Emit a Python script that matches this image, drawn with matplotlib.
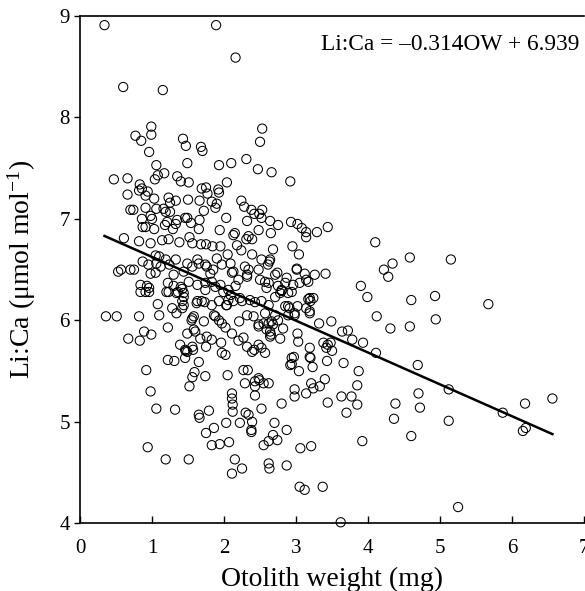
import matplotlib
matplotlib.use("Agg")
import matplotlib.pyplot as plt
import numpy as np

plt.rcParams['font.family'] = ['Liberation Serif', 'DejaVu Serif']
plt.rcParams['mathtext.fontset'] = 'custom'
plt.rcParams['mathtext.rm'] = 'Liberation Serif'
plt.rcParams['mathtext.default'] = 'regular'

# Otolith weight (mg), Li:Ca (umol/mol) pairs
points = [
    (0.34,8.91),(1.89,8.91),(2.16,8.59),(0.60,8.30),(1.15,8.27),
    (0.99,7.91),(0.99,7.83),(0.77,7.82),(0.85,7.77),(0.96,7.66),(1.43,7.79),(1.47,7.72),(1.68,7.71),
    (1.70,7.67),(1.49,7.55),(2.53,7.89),(2.50,7.76),(2.31,7.59),(2.10,7.55),(1.93,7.53),(2.47,7.49),
    (2.66,7.46),(2.92,7.37),(1.06,7.53),(1.17,7.45),(1.08,7.43),(1.04,7.39),(0.47,7.39),(0.66,7.40),
    (0.66,7.24),(0.83,7.34),(0.86,7.30),(0.82,7.28),(0.94,7.27),(0.91,7.23),(1.03,7.20),(1.35,7.42),
    (1.40,7.37),(1.51,7.36),(1.50,7.19),(1.69,7.30),(1.75,7.31),(1.77,7.25),(1.92,7.29),(1.93,7.26),
    (2.04,7.36),(1.66,7.18),(1.83,7.17),(1.90,7.15),(1.25,7.16),(1.33,7.18),(1.23,7.21),
    (0.91,7.11),(0.74,7.09),(0.70,7.09),(1.16,7.10),(1.19,7.07),(1.25,7.07),(1.06,7.10),(2.24,7.18),
    (2.28,7.12),(2.38,7.09),(2.53,7.09),(2.49,7.05),(2.42,7.05),(2.32,6.98),(2.93,6.97),(3.02,6.95),
    (2.64,6.98),(2.75,6.94),(2.03,7.01),(1.94,6.89),(1.46,7.01),(1.35,6.99),(1.33,6.95),(1.66,6.99),
    (1.72,7.08),(1.65,6.90),(1.54,6.96),(0.86,7.00),(0.87,6.92),(0.98,7.03),(0.91,6.92),(1.03,6.90),
    (1.18,6.94),(1.21,6.97),(1.29,6.90),(1.88,7.11),(1.49,7.01),(1.00,7.00),
    (0.61,6.81),(0.82,6.78),(0.98,6.76),(1.14,6.79),(1.23,6.80),(1.38,6.77),(1.52,6.82),(1.56,6.76),
    (1.68,6.75),(1.75,6.75),(1.84,6.73),(1.95,6.73),(2.05,6.65),(2.15,6.86),(2.18,6.74),(2.24,6.69),
    (2.31,6.80),(2.39,6.80),(2.48,6.89),(2.65,6.86),(2.68,6.70),(2.63,6.58),(2.52,6.60),(2.34,6.50),
    (2.95,6.73),(3.04,6.65),(3.01,6.50),(2.87,6.42),(2.74,6.47),
    (2.52,7.01),(2.34,6.83),(2.39,6.65),(2.64,6.60),(2.61,6.55),(2.48,6.50),(2.71,6.45),(2.29,6.53),
    (2.32,6.45),(2.57,6.38),(2.59,6.32),(2.75,6.34),(2.80,6.29),(2.85,6.37),(2.96,6.35),(2.71,6.23),
    (2.85,6.14),(2.89,6.14),(2.43,6.18),(2.62,6.15),(2.13,6.84),
    (0.53,6.48),(0.57,6.50),(0.75,6.50),(0.87,6.58),(0.95,6.55),(0.98,6.46),(0.84,6.35),(0.93,6.34),
    (1.06,6.56),(1.10,6.63),(1.19,6.60),(1.24,6.55),(1.33,6.60),(1.22,6.37),(1.30,6.34),(1.40,6.33),
    (1.44,6.27),(1.56,6.53),(1.65,6.56),(1.76,6.53),(1.85,6.50),(1.97,6.55),(2.09,6.56),(2.11,6.47),
    (2.32,6.43),(1.74,6.37),(1.88,6.33),(2.06,6.30),(2.16,6.34),(2.50,6.40),(2.62,6.37),(2.80,6.30),
    (0.70,6.50),(0.91,6.28),(0.96,6.32),(1.05,6.47),(1.12,6.53),(1.05,6.64),(1.23,6.28),(1.34,6.27),
    (1.42,6.31),(1.44,6.23),(1.30,6.45),(1.44,6.48),(1.49,6.56),(1.63,6.60),(1.74,6.55),(1.81,6.46),
    (1.90,6.61),(1.83,6.38),(1.95,6.35),(1.99,6.28),(2.09,6.25),(2.13,6.48),(2.20,6.40),(2.25,6.19),
    (2.04,6.15),(1.93,6.19),(1.74,6.30),(1.63,6.35),(1.51,6.38),(1.63,6.19),(1.44,6.15),
    (3.08,6.91),(3.14,6.87),(3.14,6.82),(3.29,6.87),(3.44,6.92),(4.10,6.77),(4.58,6.62),(5.15,6.60),
    (4.34,6.56),(4.22,6.50),(4.28,6.43),(3.90,6.34),(3.01,6.51),(3.12,6.46),(3.14,6.40),(3.26,6.45),
    (3.41,6.46),(3.05,6.37),(3.17,6.38),(3.19,6.22),
    (0.36,6.04),(0.51,6.04),(0.82,6.04),(0.84,6.28),(0.96,6.28),(1.20,6.28),(1.36,6.28),(1.08,6.16),
    (1.10,6.05),(1.28,6.12),(1.34,6.07),(1.42,6.12),(1.42,6.19),(1.62,6.17),(1.69,6.19),(1.73,6.18),
    (1.83,6.15),(2.03,6.15),(2.06,6.20),(2.13,6.19),(2.22,6.22),(2.36,6.20),(2.52,6.19),(2.78,6.27),
    (2.89,6.27),(2.98,6.07),(3.02,6.14),(1.55,6.00),(1.58,6.04),(1.72,5.99),(1.88,6.04),(1.97,5.97),
    (2.02,5.93),(2.21,5.99),(2.32,6.05),(2.75,6.00),(2.66,5.99),(2.62,5.97),(2.48,5.96),
    (5.67,6.16),(4.93,6.24),(4.94,6.01),(4.60,6.20),(4.58,5.94),(4.31,5.92),(4.12,6.04),(3.99,6.23),
    (3.14,6.12),(3.19,6.07),(3.20,6.19),(3.17,6.21),(2.98,6.05),(2.91,6.12),(3.24,6.22),(2.94,6.28),
    (1.56,6.02),(1.86,6.05),(1.93,6.00),
    (2.41,6.04),(2.48,5.94),(2.55,5.97),(2.59,5.91),(2.65,5.86),(2.68,5.96),(2.82,5.92),(2.57,6.07),
    (2.71,6.05),(2.89,6.05),(3.19,6.09),
    (0.67,5.82),(0.83,5.80),(0.89,5.89),(0.99,5.86),(1.22,5.93),(1.22,5.61),(1.31,5.60),(1.39,5.76),
    (1.46,5.71),(1.49,5.69),(1.46,5.63),(1.56,5.74),(1.58,5.91),(1.65,5.59),(1.59,5.49),(1.56,5.44),
    (1.52,5.35),(1.74,5.45),(1.67,5.82),(1.76,5.84),(1.83,5.81),(1.75,5.74),(1.96,5.78),(1.97,5.68),
    (2.02,5.66),(2.11,5.87),(2.20,5.80),(2.27,5.83),(2.05,5.46),(2.33,5.51),(3.02,5.87),(3.04,5.50),
    (3.03,5.79),(2.64,5.89),(2.48,5.76),(2.57,5.68),(2.52,5.73),(2.39,5.69),(2.42,5.71),(2.64,5.84),
    (2.78,5.82),(2.92,5.56),(2.94,5.57),(2.97,5.64),
    (1.49,5.87),(1.60,5.89),(1.47,5.70),(1.57,5.71),(2.27,5.51),(2.29,5.38),
    (3.23,5.54),(3.20,5.63),(3.19,5.73),(2.94,5.63),(3.43,5.60),(3.38,5.78),(3.44,5.76),(3.48,5.78),
    (3.50,5.70),(3.42,5.73),(3.49,5.99),(3.32,5.97),(3.64,5.89),(3.72,5.90),(3.78,5.81),(3.93,5.78),
    (3.66,5.58),(3.87,5.50),(4.11,5.68),(4.69,5.56),(3.19,5.64),(2.32,5.74),
    (0.92,5.51),(0.98,5.30),(1.06,5.13),(1.32,5.12),(1.79,5.11),(1.65,5.07),(1.66,5.04),(2.11,5.28),
    (2.11,5.23),(2.12,5.17),(2.12,5.10),(2.22,4.99),(2.43,5.35),(2.43,5.26),(2.49,5.41),(2.52,5.13),
    (2.55,5.38),(2.62,5.38),(2.34,5.07),(2.39,5.00),(2.38,4.92),(2.38,4.90),(2.80,5.18),(2.98,5.32),
    (2.98,5.25),(2.03,4.99),
    (3.44,5.19),(3.70,5.09),(3.63,5.25),(3.77,5.25),(3.85,5.17),(3.85,5.36),(3.40,5.42),(3.33,5.35),
    (3.24,5.33),(3.21,5.38),(3.14,5.28),(5.12,5.32),(4.70,5.28),(4.72,5.14),(4.38,5.18),(4.36,5.03),
    (5.12,5.01),(5.87,5.09),(6.18,5.18),(6.56,5.23),
    (2.43,5.40),(2.48,5.43),(2.30,5.09),
    (2.07,4.80),(1.75,4.89),(1.86,4.94),(1.83,4.77),(1.94,4.78),(2.15,4.63),(2.25,4.54),(2.11,4.49),
    (2.55,4.77),(2.62,4.81),(2.70,4.99),(2.68,4.87),(2.74,4.82),(2.62,4.59),(2.63,4.54),(2.87,4.92),
    (2.87,4.57),(3.05,4.36),(3.12,4.33),(3.06,4.74),(0.94,4.75),(1.19,4.63),(1.51,4.63),(4.60,4.86),
    (3.92,4.81),(5.25,4.16),(3.62,4.01),(6.15,4.91),(6.19,4.94),(3.37,4.36),(3.21,4.76),
]
otolith_weight = [p[0] for p in points]
li_ca = [p[1] for p in points]

slope = -0.314
intercept = 6.939
equation_label = "Li:Ca = \u20130.314OW + 6.939"

x_ticks = [0, 1, 2, 3, 4, 5, 6, 7]
y_ticks = [4, 5, 6, 7, 8, 9]

fig = plt.figure(figsize=(5.85, 5.91), dpi=100)
ax = fig.add_axes([80/585, 67.7/591, 504.1/585, 507.3/591])

ax.scatter(otolith_weight, li_ca, s=44, facecolors='none', edgecolors='black',
           linewidths=0.75, clip_on=False, zorder=2)

xl = np.array([min(otolith_weight), max(otolith_weight)])
ax.plot(xl, slope * xl + intercept, color='black', lw=1.8, zorder=3)

ax.set_xlim(0.037, 7.0)
ax.set_ylim(4, 9)
ax.set_xticks(x_ticks)
ax.set_yticks(y_ticks)

for s in ['left', 'bottom', 'top']:
    ax.spines[s].set_linewidth(1.2)
ax.spines['right'].set_visible(False)

ax.tick_params(axis='x', direction='in', length=5, width=1, pad=11, labelsize=15)
ax.tick_params(axis='y', direction='out', length=4.3, width=1, pad=3, labelsize=15)

ax.set_xlabel("Otolith weight (mg)", fontsize=20)
ax.set_ylabel("Li:Ca (\u03bcmol mol$^{\\mathregular{-1}}$)", fontsize=20)
ax.xaxis.set_label_coords(0.5, -0.086)
ax.yaxis.set_label_coords(-0.084, 0.5)

ax.text(0.990, 0.933, equation_label, transform=ax.transAxes, ha='right',
        va='baseline', fontsize=16.8)

fig.savefig("out.png", dpi=100)
